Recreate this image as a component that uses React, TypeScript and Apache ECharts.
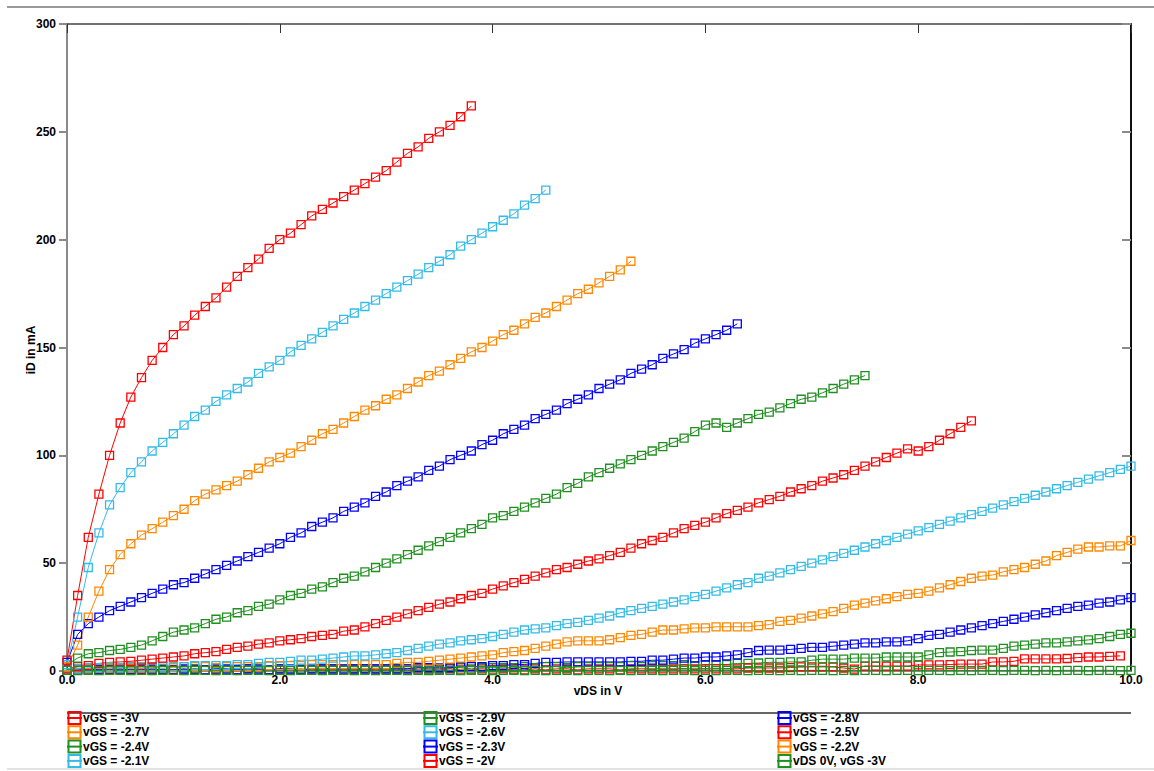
import React, { useEffect, useRef } from "react";
import * as echarts from "echarts";

// vDS grid in volts (measurement points)
const vDS = [
  0.0, 0.1, 0.2, 0.3, 0.4, 0.5, 0.6, 0.7, 0.8, 0.9,
  1.0, 1.1, 1.2, 1.3, 1.4, 1.5, 1.6, 1.7, 1.8, 1.9,
  2.0, 2.1, 2.2, 2.3, 2.4, 2.5, 2.6, 2.7, 2.8, 2.9,
  3.0, 3.1, 3.2, 3.3, 3.4, 3.5, 3.6, 3.7, 3.8, 3.9,
  4.0, 4.1, 4.2, 4.3, 4.4, 4.5, 4.6, 4.7, 4.8, 4.9,
  5.0, 5.1, 5.2, 5.3, 5.4, 5.5, 5.6, 5.7, 5.8, 5.9,
  6.0, 6.1, 6.2, 6.3, 6.4, 6.5, 6.6, 6.7, 6.8, 6.9,
  7.0, 7.1, 7.2, 7.3, 7.4, 7.5, 7.6, 7.7, 7.8, 7.9,
  8.0, 8.1, 8.2, 8.3, 8.4, 8.5, 8.6, 8.7, 8.8, 8.9,
  9.0, 9.1, 9.2, 9.3, 9.4, 9.5, 9.6, 9.7, 9.8, 9.9,
  10.0,
];

// iD in mA for each vGS
const iD_vGS_m3 = [
  0.5, 0.5, 0.5, 1, 0.5, 0.5, 0.5, 1, 0.5, 0.5,
  0.5, 0.5, 1, 0.5, 0.5, 0.5, 0.5, 1, 0.5, 0.5,
  0.5, 0.5, 0.5, 1, 0.5, 0.5, 0.5, 0.5, 1, 0.5,
  0.5, 0.5, 1, 0.5, 0.5, 0.5, 1, 0.5, 0.5, 1,
  0.5, 1, 0.5, 0.5, 1, 0.5, 1, 1, 0.5, 1,
  1, 1, 0.5, 1, 1, 1, 1, 1, 1, 1,
  1, 1, 1, 1, 1.4, 1.4, 1.4, 1.4, 1.6, 1.9,
  1.9, 1.9, 1.9, 1.4, 0.9, 2.3, 2.3, 2.3, 2.3, 2.3,
  2.8, 2.8, 2.8, 3, 3.2, 3.2, 3.2, 4.2, 4.2, 4.5,
  5.6, 5.6, 5.6, 5.6, 5.8, 6.2, 6.5, 6.5, 6.8, 7,
];
const iD_vGS_m29 = [
  0.5, 1, 0.5, 0.5, 1, 0.5, 1, 0.5, 0.5, 1,
  0.5, 0.5, 1, 0.5, 1, 0.5, 0.5, 1, 0.5, 0.5,
  1, 0.5, 1, 0.5, 1, 1, 0.5, 1, 1, 1,
  1, 1, 1, 1.5, 1, 1, 1.5, 1.5, 1, 1.5,
  1.5, 1.5, 1.5, 2, 1.5, 2, 2, 1.5, 2, 2,
  2, 2, 2, 2.5, 2, 2.5, 2.5, 2.5, 3, 2.5,
  3, 3, 3, 3.5, 3.5, 3.7, 4, 4, 4.2, 4.2,
  5, 5.5, 5.5, 5.5, 6, 6, 6, 6.5, 6.5, 6.5,
  6.5, 7.5, 8.5, 8.8, 9, 9.5, 9.7, 9.7, 10.5, 11.5,
  12, 12.5, 13, 13, 13.5, 14, 14.4, 15, 16, 17,
  17.5,
];
const iD_vGS_m28 = [
  0.5, 0.5, 1, 0.5, 0.5, 1, 0.5, 0.5, 1, 0.5,
  0.5, 1, 0.5, 0.5, 1, 1, 0.5, 1, 1, 0.5,
  1, 1, 0.5, 1, 1, 1, 1, 1, 1, 1,
  1, 1, 1, 1.5, 1.5, 1.5, 1.5, 2, 2, 2,
  2.5, 2.5, 3, 3, 3.5, 4, 4, 4.2, 4.2, 4.2,
  4.2, 4.2, 4.2, 4.5, 4.5, 5, 5, 5.5, 6, 6,
  6.5, 6.5, 7, 7.5, 8.5, 9.5, 9.7, 9.7, 10, 10.5,
  11, 11, 11.5, 12, 12.5, 13, 13, 13.5, 13.5, 14,
  15, 16.5, 17, 18, 19, 20, 21, 22, 23, 24,
  25, 26, 27, 28, 29, 30, 30.5, 31.5, 32, 33,
  34,
];
const iD_vGS_m27 = [
  1, 1, 1, 1.5, 1.5, 1.5, 1.5, 1.5, 1.5, 2,
  1.5, 2, 2, 2, 1.5, 2, 2, 2, 2, 2.5,
  2.5, 2.5, 2.5, 3, 3, 3, 3, 3, 3, 3,
  3, 3.5, 4, 4, 4.5, 5, 5.5, 6, 6.5, 7,
  7.5, 8.5, 9, 9.5, 10.5, 11.5, 12.5, 13.5, 14, 14,
  14, 14.5, 15.5, 16.5, 17, 18, 19, 19, 19.5, 20,
  20, 20.5, 20.5, 20.5, 20.5, 21, 21.5, 23, 23.5, 24.5,
  25.5, 26.5, 27.5, 29, 30.5, 31.5, 32.5, 33.5, 34.5, 35.5,
  36, 37, 38.5, 40, 41.5, 43, 44, 44.5, 46, 47,
  48, 49.5, 51, 53.5, 55, 56.5, 57.5, 57.5, 58, 58,
  60.5,
];
const iD_vGS_m26 = [
  1, 1, 1.5, 1.5, 2, 1.5, 2, 2, 2, 2,
  2, 2, 2.5, 2.5, 2.5, 2.5, 3, 3, 3.5, 4,
  4, 4.5, 5, 5, 5.5, 6, 6.5, 7, 7, 7.5,
  8, 8.5, 9.5, 10.5, 11.5, 12.5, 13, 14, 14.5, 15,
  16, 17, 18, 19, 19.5, 20, 21, 22, 22.5, 23.5,
  24.5, 25.5, 27, 28, 29, 30, 31, 32, 33, 34.5,
  35.5, 37, 38.5, 40, 41, 43, 44, 45.5, 47, 48.5,
  50, 51.5, 53, 54.5, 56, 57.5, 59, 60.5, 62, 63.5,
  65, 66.5, 68, 69.5, 71, 72.5, 74, 75.5, 77, 78.5,
  80, 81.5, 83, 84.5, 86, 87.5, 89, 90.5, 92, 93.5,
  95,
];
const iD_vGS_m25 = [
  1, 2, 2.5, 3.5, 4, 4.2, 4.5, 5, 5.5, 6,
  6.5, 7, 8, 8.5, 9, 10, 11, 11.5, 12.5, 13,
  14, 14.5, 15, 16, 16.5, 17, 18.5, 19, 20.5, 22,
  23.5, 25, 26.5, 28, 29.5, 31, 32, 33.5, 35, 36,
  38, 39.5, 41, 42.5, 44, 45.5, 47, 48, 49.5, 51,
  52, 53.5, 55, 57, 59, 60.5, 62, 64, 66, 67.5,
  69, 71, 73, 74.5, 76, 78, 79.5, 81, 83, 84.5,
  86, 88, 89.5, 91, 93, 95, 97, 99, 101, 103,
  102, 104, 107, 110, 113, 116,
];
const iD_vGS_m24 = [
  3, 6, 8, 8.5, 9.5, 10, 11, 12, 14, 16,
  18, 19, 20, 22, 24, 25, 27, 28, 30, 31,
  33, 35, 36, 38, 39, 41, 43, 44, 46, 48,
  50, 52, 54, 56, 58, 60, 62, 64, 66, 68,
  71, 72, 74, 76, 78, 80, 82, 85, 87, 90,
  92, 94, 96, 98, 100, 102, 104, 106, 108, 111,
  114, 115, 113, 115, 117, 119, 120, 122, 124, 126,
  127, 129, 131, 133, 135, 137,
];
const iD_vGS_m23 = [
  4, 17, 22, 25, 28, 30, 32, 34, 36, 38,
  40, 41, 43, 45, 47, 49, 51, 53, 55, 57,
  59, 62, 64, 67, 69, 71, 74, 76, 78, 81,
  83, 86, 88, 90, 93, 95, 98, 100, 102, 105,
  107, 110, 112, 114, 117, 119, 121, 124, 126, 128,
  131, 133, 135, 138, 140, 142, 145, 147, 149, 152,
  154, 156, 158, 161,
];
const iD_vGS_m22 = [
  2, 12, 25, 37, 47, 54, 59, 63, 66, 69,
  72, 75, 79, 82, 84, 86, 88, 91, 94, 97,
  99, 101, 104, 107, 110, 112, 115, 118, 121, 123,
  126, 128, 131, 134, 137, 139, 142, 145, 148, 150,
  153, 156, 158, 161, 164, 166, 169, 172, 175, 177,
  180, 183, 186, 190,
];
const iD_vGS_m21 = [
  3, 25, 48, 64, 77, 85, 92, 97, 102, 106,
  110, 114, 118, 121, 125, 128, 131, 134, 138, 141,
  144, 148, 151, 154, 157, 160, 163, 166, 169, 172,
  175, 178, 181, 184, 187, 190, 193, 197, 200, 203,
  206, 209, 212, 216, 219, 223,
];
const iD_vGS_m2 = [
  5, 35, 62, 82, 100, 115, 127, 136, 144, 150,
  156, 160, 165, 169, 173, 178, 183, 187, 191, 196,
  200, 203, 207, 211, 214, 217, 220, 223, 226, 229,
  232, 236, 240, 243, 247, 250, 253, 257, 262,
];
const iD_vDS0 = [
  0.3, 0.2, 0.3, 0.2, 0.3, 0.3, 0.2, 0.3, 0.2, 0.3,
  0.3, 0.2, 0.3, 0.3, 0.2, 0.3, 0.2, 0.3, 0.3, 0.2,
  0.3, 0.2, 0.3, 0.3, 0.2, 0.3, 0.3, 0.2, 0.3, 0.2,
  0.3, 0.3, 0.2, 0.3, 0.2, 0.3, 0.3, 0.2, 0.3, 0.3,
  0.2, 0.3, 0.3, 0.2, 0.3, 0.2, 0.3, 0.3, 0.2, 0.3,
  0.3, 0.2, 0.3, 0.2, 0.3, 0.3, 0.2, 0.3, 0.3, 0.2,
  0.3, 0.2, 0.3, 0.3, 0.2, 0.3, 0.3, 0.2, 0.3, 0.2,
  0.3, 0.3, 0.2, 0.3, 0.2, 0.3, 0.3, 0.2, 0.3, 0.3,
  0.2, 0.3, 0.3, 0.2, 0.3, 0.2, 0.3, 0.3, 0.2, 0.3,
  0.3, 0.2, 0.3, 0.2, 0.3, 0.3, 0.2, 0.3, 0.3, 0.2,
  0.3,
];

const seriesNames = [
  "vGS = -3V", "vGS = -2.9V", "vGS = -2.8V", "vGS = -2.7V",
  "vGS = -2.6V", "vGS = -2.5V", "vGS = -2.4V", "vGS = -2.3V",
  "vGS = -2.2V", "vGS = -2.1V", "vGS = -2V", "vDS 0V, vGS -3V",
];
const seriesValues = [
  iD_vGS_m3, iD_vGS_m29, iD_vGS_m28, iD_vGS_m27,
  iD_vGS_m26, iD_vGS_m25, iD_vGS_m24, iD_vGS_m23,
  iD_vGS_m22, iD_vGS_m21, iD_vGS_m2, iD_vDS0,
];
const palette = ["#ff0000", "#1f8f1f", "#0000ff", "#ff8800", "#33bbe8"];

const xTicks = { min: 0, max: 10, interval: 2 };
const yTicks = { min: 0, max: 300, interval: 50 };

const FONT = "'Liberation Sans', Arial, sans-serif";

export default function App() {
  const ref = useRef<HTMLDivElement>(null);

  useEffect(() => {
    if (!ref.current) return;
    const chart = echarts.init(ref.current, undefined, { renderer: "svg" });

    const series = seriesNames.map((name, k) => {
      const c = palette[k % palette.length];
      return {
        type: "line",
        name,
        data: seriesValues[k].map((v, i) => [vDS[i], v]),
        symbol: "rect",
        symbolSize: 8,
        showSymbol: true,
        color: c,
        lineStyle: { color: c, width: 1 },
        itemStyle: { color: "rgba(255,255,255,0)", borderColor: c, borderWidth: 1.3 },
        emphasis: { disabled: true },
        silent: true,
        xAxisIndex: 0,
        yAxisIndex: 0,
      };
    });

    const legendCol = (idx: number[], left: number) => ({
      orient: "vertical",
      left,
      top: 711,
      padding: 0,
      itemGap: 0.3,
      itemWidth: 15,
      itemHeight: 15,
      selectedMode: false,
      textStyle: {
        fontFamily: FONT,
        fontWeight: "bold",
        fontSize: 12,
        color: "#000",
        lineHeight: 13,
        padding: [0, 0, 0, -4],
      },
      data: idx.map((i) => seriesNames[i]),
    });

    chart.setOption({
      animation: false,
      backgroundColor: "#ffffff",
      grid: { left: 67, right: 23, top: 24, bottom: 100, containLabel: false },
      xAxis: [
        {
          type: "value",
          position: "bottom",
          ...xTicks,
          axisLine: { show: true, onZero: false, lineStyle: { color: "#8a8a8a", width: 2 } },
          axisTick: { show: true, inside: true, length: 7, lineStyle: { color: "#444", width: 1 } },
          axisLabel: {
            formatter: (v: number) => v.toFixed(1),
            margin: 3,
            fontFamily: FONT,
            fontWeight: "bold",
            fontSize: 12,
            color: "#000",
            showMinLabel: true,
            showMaxLabel: true,
          },
          splitLine: { show: false },
        },
        {
          type: "value",
          position: "top",
          ...xTicks,
          axisLine: { show: true, onZero: false, lineStyle: { color: "#444", width: 1.5 } },
          axisTick: { show: true, inside: true, length: 9, lineStyle: { color: "#333", width: 1 } },
          axisLabel: { show: false },
          splitLine: { show: false },
        },
      ],
      yAxis: [
        {
          type: "value",
          position: "left",
          ...yTicks,
          axisLine: { show: true, onZero: false, lineStyle: { color: "#8a8a8a", width: 2 } },
          axisTick: { show: true, inside: false, length: 8, lineStyle: { color: "#8a8a8a", width: 2 } },
          axisLabel: {
            margin: 11,
            fontFamily: FONT,
            fontWeight: "bold",
            fontSize: 12,
            color: "#000",
          },
          splitLine: { show: false },
        },
        {
          type: "value",
          position: "right",
          ...yTicks,
          axisLine: { show: true, onZero: false, lineStyle: { color: "#111", width: 2 } },
          axisTick: { show: true, inside: true, length: 9, lineStyle: { color: "#8a8a8a", width: 2 } },
          axisLabel: { show: false },
          splitLine: { show: false },
        },
      ],
      legend: [
        legendCol([0, 3, 6, 9], 66),
        legendCol([1, 4, 7, 10], 422),
        legendCol([2, 5, 8, 11], 776),
      ],
      graphic: [
        {
          type: "line",
          shape: { x1: 7, y1: 7, x2: 1154, y2: 7 },
          style: { stroke: "#9a9a9a", lineWidth: 2 },
          silent: true,
        },
        {
          type: "line",
          shape: { x1: 67, y1: 713, x2: 1131, y2: 713 },
          style: { stroke: "#333", lineWidth: 1.5 },
          silent: true,
        },
        {
          type: "line",
          shape: { x1: 7, y1: 769, x2: 1154, y2: 769 },
          style: { stroke: "#e2e2e2", lineWidth: 2 },
          silent: true,
        },
        {
          type: "text",
          x: 598,
          y: 691,
          style: {
            text: "vDS in V",
            fontFamily: FONT,
            fontWeight: "bold",
            fontSize: 12,
            fill: "#000",
            align: "center",
            verticalAlign: "middle",
          },
          silent: true,
        },
        {
          type: "text",
          x: 31,
          y: 350,
          rotation: Math.PI / 2,
          style: {
            text: "iD in mA",
            fontFamily: FONT,
            fontWeight: "bold",
            fontSize: 12,
            fill: "#000",
            align: "center",
            verticalAlign: "middle",
          },
          silent: true,
        },
      ],
      series,
    });

    return () => chart.dispose();
  }, []);

  return (
    <div
      ref={ref}
      style={{ position: "fixed", left: 0, top: 0, width: 1154, height: 771, background: "#fff" }}
    />
  );
}
